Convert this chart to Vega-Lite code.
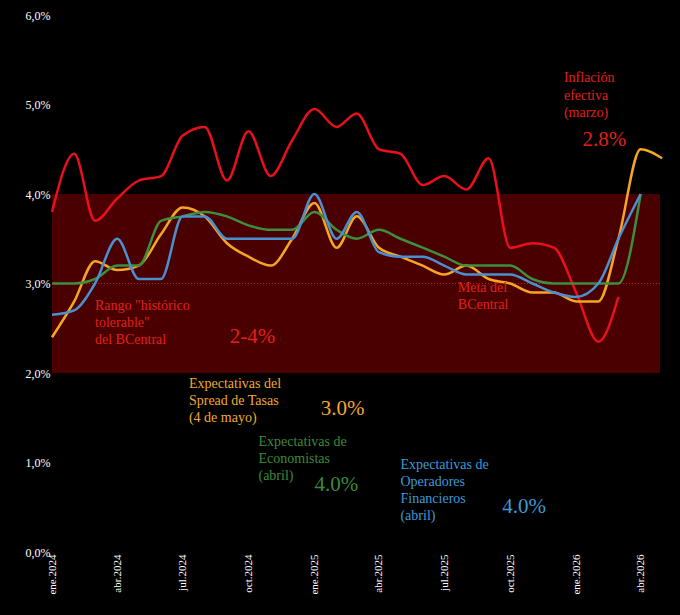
{
  "$schema": "https://vega.github.io/schema/vega-lite/v6.json",
  "autosize": {"type": "none"},
  "padding": {"left": 52, "top": 15, "right": 20, "bottom": 63},
  "width": 608,
  "height": 537,
  "background": "black",
  "config": {"view": {"stroke": null}, "font": "Liberation Serif"},
  "datasets": {
    "series": [
      {"d":"2024-01-01","s":"Inflación","v":3.8},{"d":"2024-02-01","s":"Inflación","v":4.45},{"d":"2024-03-01","s":"Inflación","v":3.7},{"d":"2024-04-01","s":"Inflación","v":3.95},{"d":"2024-05-01","s":"Inflación","v":4.15},{"d":"2024-06-01","s":"Inflación","v":4.2},{"d":"2024-07-01","s":"Inflación","v":4.65},{"d":"2024-08-01","s":"Inflación","v":4.75},{"d":"2024-09-01","s":"Inflación","v":4.15},{"d":"2024-10-01","s":"Inflación","v":4.7},{"d":"2024-11-01","s":"Inflación","v":4.2},{"d":"2024-12-01","s":"Inflación","v":4.6},{"d":"2025-01-01","s":"Inflación","v":4.95},{"d":"2025-02-01","s":"Inflación","v":4.75},{"d":"2025-03-01","s":"Inflación","v":4.9},{"d":"2025-04-01","s":"Inflación","v":4.5},{"d":"2025-05-01","s":"Inflación","v":4.45},{"d":"2025-06-01","s":"Inflación","v":4.1},{"d":"2025-07-01","s":"Inflación","v":4.2},{"d":"2025-08-01","s":"Inflación","v":4.05},{"d":"2025-09-01","s":"Inflación","v":4.4},{"d":"2025-10-01","s":"Inflación","v":3.4},{"d":"2025-11-01","s":"Inflación","v":3.45},{"d":"2025-12-01","s":"Inflación","v":3.4},{"d":"2026-01-01","s":"Inflación","v":2.9},{"d":"2026-02-01","s":"Inflación","v":2.35},{"d":"2026-03-01","s":"Inflación","v":2.85},
      {"d":"2024-01-01","s":"Spread","v":2.4},{"d":"2024-02-01","s":"Spread","v":2.8},{"d":"2024-03-01","s":"Spread","v":3.25},{"d":"2024-04-01","s":"Spread","v":3.15},{"d":"2024-05-01","s":"Spread","v":3.2},{"d":"2024-06-01","s":"Spread","v":3.55},{"d":"2024-07-01","s":"Spread","v":3.85},{"d":"2024-08-01","s":"Spread","v":3.75},{"d":"2024-09-01","s":"Spread","v":3.45},{"d":"2024-10-01","s":"Spread","v":3.3},{"d":"2024-11-01","s":"Spread","v":3.2},{"d":"2024-12-01","s":"Spread","v":3.5},{"d":"2025-01-01","s":"Spread","v":3.9},{"d":"2025-02-01","s":"Spread","v":3.4},{"d":"2025-03-01","s":"Spread","v":3.75},{"d":"2025-04-01","s":"Spread","v":3.4},{"d":"2025-05-01","s":"Spread","v":3.3},{"d":"2025-06-01","s":"Spread","v":3.2},{"d":"2025-07-01","s":"Spread","v":3.1},{"d":"2025-08-01","s":"Spread","v":3.2},{"d":"2025-09-01","s":"Spread","v":3.05},{"d":"2025-10-01","s":"Spread","v":3.0},{"d":"2025-11-01","s":"Spread","v":2.9},{"d":"2025-12-01","s":"Spread","v":2.9},{"d":"2026-01-01","s":"Spread","v":2.8},{"d":"2026-02-01","s":"Spread","v":2.8},{"d":"2026-03-01","s":"Spread","v":3.5},{"d":"2026-04-01","s":"Spread","v":4.5},{"d":"2026-05-01","s":"Spread","v":4.4},
      {"d":"2024-01-01","s":"Economistas","v":3.0},{"d":"2024-02-01","s":"Economistas","v":3.0},{"d":"2024-03-01","s":"Economistas","v":3.05},{"d":"2024-04-01","s":"Economistas","v":3.2},{"d":"2024-05-01","s":"Economistas","v":3.2},{"d":"2024-06-01","s":"Economistas","v":3.7},{"d":"2024-07-01","s":"Economistas","v":3.75},{"d":"2024-08-01","s":"Economistas","v":3.8},{"d":"2024-09-01","s":"Economistas","v":3.75},{"d":"2024-10-01","s":"Economistas","v":3.65},{"d":"2024-11-01","s":"Economistas","v":3.6},{"d":"2024-12-01","s":"Economistas","v":3.6},{"d":"2025-01-01","s":"Economistas","v":3.8},{"d":"2025-02-01","s":"Economistas","v":3.6},{"d":"2025-03-01","s":"Economistas","v":3.5},{"d":"2025-04-01","s":"Economistas","v":3.6},{"d":"2025-05-01","s":"Economistas","v":3.5},{"d":"2025-06-01","s":"Economistas","v":3.4},{"d":"2025-07-01","s":"Economistas","v":3.3},{"d":"2025-08-01","s":"Economistas","v":3.2},{"d":"2025-09-01","s":"Economistas","v":3.2},{"d":"2025-10-01","s":"Economistas","v":3.2},{"d":"2025-11-01","s":"Economistas","v":3.05},{"d":"2025-12-01","s":"Economistas","v":3.0},{"d":"2026-01-01","s":"Economistas","v":3.0},{"d":"2026-02-01","s":"Economistas","v":3.0},{"d":"2026-03-01","s":"Economistas","v":3.0},{"d":"2026-04-01","s":"Economistas","v":4.0},
      {"d":"2024-01-01","s":"Operadores","v":2.65},{"d":"2024-02-01","s":"Operadores","v":2.7},{"d":"2024-03-01","s":"Operadores","v":3.0},{"d":"2024-04-01","s":"Operadores","v":3.5},{"d":"2024-05-01","s":"Operadores","v":3.05},{"d":"2024-06-01","s":"Operadores","v":3.05},{"d":"2024-07-01","s":"Operadores","v":3.75},{"d":"2024-08-01","s":"Operadores","v":3.75},{"d":"2024-09-01","s":"Operadores","v":3.5},{"d":"2024-10-01","s":"Operadores","v":3.5},{"d":"2024-11-01","s":"Operadores","v":3.5},{"d":"2024-12-01","s":"Operadores","v":3.5},{"d":"2025-01-01","s":"Operadores","v":4.0},{"d":"2025-02-01","s":"Operadores","v":3.5},{"d":"2025-03-01","s":"Operadores","v":3.8},{"d":"2025-04-01","s":"Operadores","v":3.35},{"d":"2025-05-01","s":"Operadores","v":3.3},{"d":"2025-06-01","s":"Operadores","v":3.3},{"d":"2025-07-01","s":"Operadores","v":3.2},{"d":"2025-08-01","s":"Operadores","v":3.1},{"d":"2025-09-01","s":"Operadores","v":3.1},{"d":"2025-10-01","s":"Operadores","v":3.1},{"d":"2025-11-01","s":"Operadores","v":3.0},{"d":"2025-12-01","s":"Operadores","v":2.9},{"d":"2026-01-01","s":"Operadores","v":2.85},{"d":"2026-02-01","s":"Operadores","v":3.0},{"d":"2026-03-01","s":"Operadores","v":3.5},{"d":"2026-04-01","s":"Operadores","v":4.0}
    ],
    "notes": [
      {"d":"2024-03-01","v":2.75,"t":"Rango \"histórico","c":"#e0201a","z":14},
      {"d":"2024-03-01","v":2.56,"t":"tolerable\"","c":"#e0201a","z":14},
      {"d":"2024-03-01","v":2.37,"t":"del BCentral","c":"#e0201a","z":14},
      {"d":"2024-09-05","v":2.4,"t":"2-4%","c":"#e0201a","z":21},
      {"d":"2025-07-20","v":2.95,"t":"Meta del","c":"#e0201a","z":14},
      {"d":"2025-07-20","v":2.76,"t":"BCentral","c":"#e0201a","z":14},
      {"d":"2024-07-10","v":1.88,"t":"Expectativas del","c":"#f0a830","z":14},
      {"d":"2024-07-10","v":1.69,"t":"Spread de Tasas","c":"#f0a830","z":14},
      {"d":"2024-07-10","v":1.5,"t":"(4 de mayo)","c":"#f0a830","z":14},
      {"d":"2025-01-10","v":1.6,"t":"3.0%","c":"#f0a830","z":21},
      {"d":"2024-10-15","v":1.23,"t":"Expectativas de","c":"#3a8a3a","z":14},
      {"d":"2024-10-15","v":1.04,"t":"Economistas","c":"#3a8a3a","z":14},
      {"d":"2024-10-15","v":0.85,"t":"(abril)","c":"#3a8a3a","z":14},
      {"d":"2025-01-01","v":0.75,"t":"4.0%","c":"#3a8a3a","z":21},
      {"d":"2025-05-01","v":0.97,"t":"Expectativas de","c":"#3c9ad8","z":14},
      {"d":"2025-05-01","v":0.78,"t":"Operadores","c":"#3c9ad8","z":14},
      {"d":"2025-05-01","v":0.59,"t":"Financieros","c":"#3c9ad8","z":14},
      {"d":"2025-05-01","v":0.4,"t":"(abril)","c":"#3c9ad8","z":14},
      {"d":"2025-09-20","v":0.5,"t":"4.0%","c":"#3c9ad8","z":21},
      {"d":"2025-12-15","v":5.3,"t":"Inflación","c":"#e0201a","z":14},
      {"d":"2025-12-15","v":5.1,"t":"efectiva","c":"#e0201a","z":14},
      {"d":"2025-12-15","v":4.9,"t":"(marzo)","c":"#e0201a","z":14},
      {"d":"2026-01-10","v":4.6,"t":"2.8%","c":"#e0201a","z":21}
    ]
  },
  "layer": [
    {
      "data": {"values": [{"a":"2024-01-01","b":"2026-04-28","lo":2,"hi":4}]},
      "mark": {"type": "rect", "color": "#4a0000"},
      "encoding": {
        "x": {"field": "a", "type": "temporal"},
        "x2": {"field": "b"},
        "y": {"field": "lo", "type": "quantitative"},
        "y2": {"field": "hi"}
      }
    },
    {
      "data": {"values": [{"y": 3}]},
      "mark": {"type": "rule", "color": "#c02020", "strokeDash": [1, 2], "strokeWidth": 1},
      "encoding": {"y": {"field": "y", "type": "quantitative"}}
    },
    {
      "data": {"name": "series"},
      "mark": {"type": "line", "interpolate": "monotone", "strokeWidth": 2.5, "clip": false},
      "encoding": {
        "x": {
          "field": "d", "type": "temporal",
          "scale": {"domain": ["2024-01-01", "2026-04-28"]},
          "axis": {
            "title": null, "grid": false, "domain": false, "ticks": false,
            "values": ["2024-01-01","2024-04-01","2024-07-01","2024-10-01","2025-01-01","2025-04-01","2025-07-01","2025-10-01","2026-01-01","2026-04-01"],
            "labelExpr": "['ene','feb','mar','abr','may','jun','jul','ago','sep','oct','nov','dic'][month(datum.value)] + '.' + year(datum.value)",
            "labelAngle": -90, "labelColor": "white", "labelFont": "Liberation Serif", "labelFontSize": 11
          }
        },
        "y": {
          "field": "v", "type": "quantitative",
          "scale": {"domain": [0, 6]},
          "axis": {
            "title": null, "grid": false, "domain": false, "ticks": false,
            "values": [0,1,2,3,4,5,6],
            "labelExpr": "replace(format(datum.value, '.1f'), '.', ',') + '%'",
            "labelColor": "white", "labelFont": "Liberation Serif", "labelFontSize": 12
          }
        },
        "color": {
          "field": "s", "type": "nominal", "legend": null,
          "scale": {"domain": ["Inflación","Spread","Economistas","Operadores"], "range": ["#e8101a","#f5a623","#3e8e3e","#4a8fd0"]}
        },
        "detail": {"field": "s"}
      }
    },
    {
      "data": {"name": "notes"},
      "mark": {"type": "text", "align": "left", "font": "Liberation Serif"},
      "encoding": {
        "x": {"field": "d", "type": "temporal"},
        "y": {"field": "v", "type": "quantitative"},
        "text": {"field": "t"},
        "color": {"field": "c", "type": "nominal", "scale": null},
        "size": {"field": "z", "type": "quantitative", "scale": null}
      }
    }
  ]
}
